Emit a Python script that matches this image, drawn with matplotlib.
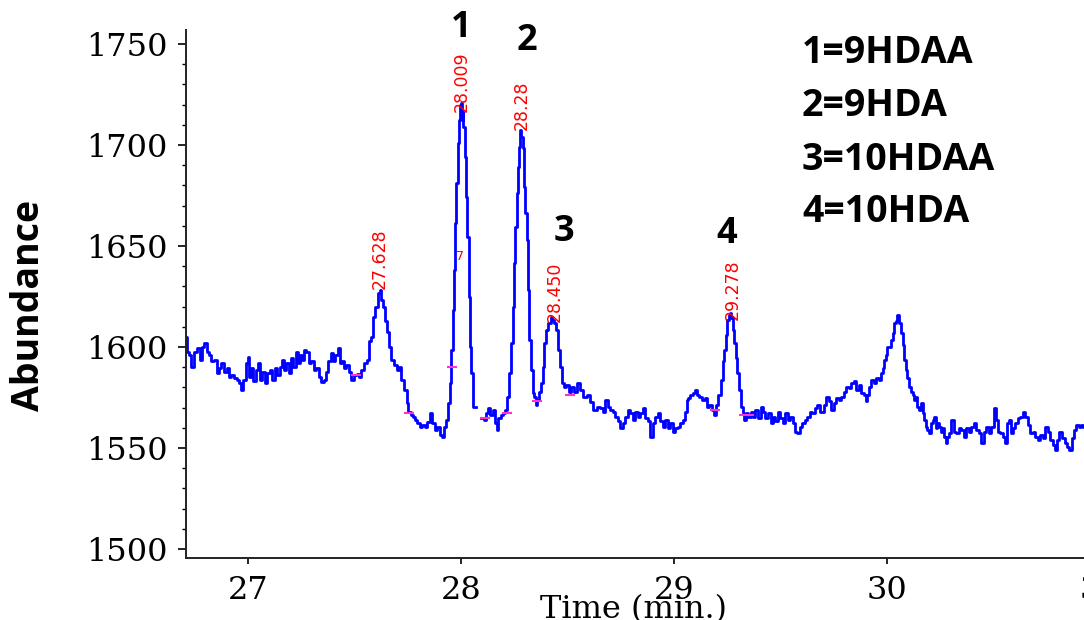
import numpy as np
import matplotlib
matplotlib.use("Agg")
import matplotlib.pyplot as plt

# trace (time in min, abundance)
time_min = [
    26.709, 26.717, 26.728, 26.740, 26.753, 26.768, 26.779, 26.790, 26.800, 26.811,
    26.822, 26.834, 26.847, 26.858, 26.869, 26.881, 26.894, 26.905, 26.916, 26.928,
    26.941, 26.952, 26.963, 26.972, 26.983, 26.994, 27.003, 27.009, 27.019, 27.030,
    27.041, 27.050, 27.061, 27.072, 27.085, 27.097, 27.108, 27.119, 27.132, 27.144,
    27.155, 27.166, 27.175, 27.186, 27.197, 27.207, 27.218, 27.229, 27.238, 27.249,
    27.260, 27.269, 27.280, 27.291, 27.304, 27.316, 27.327, 27.338, 27.351, 27.363,
    27.374, 27.382, 27.394, 27.405, 27.416, 27.426, 27.437, 27.448, 27.457, 27.468,
    27.479, 27.491, 27.504, 27.515, 27.526, 27.538, 27.551, 27.562, 27.570, 27.582,
    27.593, 27.604, 27.614, 27.621, 27.629, 27.637, 27.645, 27.656, 27.667, 27.679,
    27.692, 27.703, 27.714, 27.726, 27.739, 27.750, 27.757, 27.770, 27.781, 27.789,
    27.800, 27.811, 27.823, 27.836, 27.847, 27.858, 27.870, 27.883, 27.894, 27.905,
    27.914, 27.925, 27.936, 27.945, 27.951, 27.959, 27.964, 27.969, 27.975, 27.980,
    27.988, 27.992, 27.997, 28.002, 28.006, 28.009, 28.014, 28.020, 28.027, 28.034,
    28.039, 28.045, 28.053, 28.061, 28.083,
    28.105, 28.113, 28.124, 28.133, 28.144, 28.155, 28.164, 28.172, 28.180, 28.191,
    28.202, 28.214, 28.222, 28.230, 28.238, 28.246, 28.252, 28.258, 28.264, 28.269,
    28.274, 28.280, 28.285, 28.293, 28.300, 28.305, 28.313, 28.318, 28.324, 28.332,
    28.340, 28.347, 28.355, 28.363, 28.371, 28.379, 28.387, 28.396, 28.405, 28.415,
    28.426, 28.433, 28.441, 28.449, 28.458, 28.468, 28.477, 28.488, 28.499, 28.512,
    28.524, 28.535, 28.551, 28.566, 28.582, 28.598, 28.613, 28.629, 28.645, 28.660,
    28.671, 28.684, 28.696, 28.707, 28.718, 28.731, 28.743, 28.754, 28.765, 28.778,
    28.790, 28.801, 28.812, 28.825, 28.837, 28.848, 28.859, 28.872, 28.884, 28.895,
    28.906, 28.919, 28.930, 28.942, 28.953, 28.966, 28.978, 28.989, 29.000, 29.013,
    29.025, 29.036, 29.047, 29.056, 29.063, 29.072, 29.083, 29.094, 29.103, 29.114,
    29.125, 29.138, 29.150, 29.161, 29.172, 29.185, 29.192, 29.200, 29.213, 29.224,
    29.232, 29.239, 29.247, 29.253, 29.260, 29.266, 29.272, 29.279, 29.286, 29.294,
    29.302, 29.310, 29.318, 29.326, 29.333, 29.341, 29.354, 29.365, 29.376, 29.388,
    29.401, 29.412, 29.422, 29.435, 29.448, 29.459, 29.469, 29.482, 29.494, 29.505,
    29.516, 29.529, 29.541, 29.552, 29.563, 29.573, 29.584, 29.595, 29.607, 29.620,
    29.631, 29.642, 29.654, 29.667, 29.678, 29.695, 29.709, 29.720, 29.732, 29.745,
    29.756, 29.767, 29.779, 29.792, 29.803, 29.814, 29.826, 29.839, 29.850, 29.861,
    29.873, 29.886, 29.897, 29.904, 29.912, 29.920, 29.933, 29.944, 29.955, 29.967,
    29.975, 29.983, 29.991, 29.998, 30.006, 30.014, 30.022, 30.030, 30.038, 30.045,
    30.053, 30.061, 30.069, 30.077, 30.084, 30.092, 30.100, 30.108, 30.116, 30.124,
    30.131, 30.139, 30.147, 30.155, 30.163, 30.171, 30.178, 30.186, 30.194, 30.202,
    30.210, 30.218, 30.225, 30.233, 30.241, 30.249, 30.257, 30.264, 30.272, 30.280,
    30.288, 30.296, 30.308, 30.319, 30.330, 30.343, 30.355, 30.366, 30.377, 30.390,
    30.402, 30.413, 30.424, 30.437, 30.449, 30.460, 30.471, 30.484, 30.496, 30.507,
    30.515, 30.527, 30.538, 30.549, 30.559, 30.570, 30.577, 30.585, 30.596, 30.609,
    30.621, 30.632, 30.643, 30.656, 30.668, 30.679, 30.690, 30.703, 30.715, 30.726,
    30.737, 30.750, 30.762, 30.773, 30.784, 30.793, 30.804, 30.815, 30.828, 30.840,
    30.851, 30.862, 30.872, 30.883, 30.894, 30.906, 30.919, 30.925,
]
abundance = [
    1605.1, 1597.7, 1596.1, 1590.3, 1597.7, 1599.4, 1593.6, 1600.2, 1601.8, 1597.7,
    1596.1, 1592.8, 1593.6, 1587.0, 1589.5, 1592.0, 1587.8, 1589.5, 1585.3, 1586.2,
    1584.5, 1583.7, 1582.0, 1578.7, 1583.7, 1592.0, 1595.2, 1585.3, 1589.5, 1582.9,
    1588.6, 1592.0, 1583.7, 1587.8, 1582.0, 1587.0, 1588.6, 1583.7, 1589.5, 1586.2,
    1590.0, 1593.6, 1588.6, 1592.0, 1587.0, 1594.4, 1590.3, 1597.7, 1592.0, 1596.1,
    1593.6, 1598.5, 1597.7, 1592.0, 1592.8, 1588.6, 1589.5, 1585.3, 1582.4, 1583.7,
    1587.8, 1592.8, 1596.9, 1592.8, 1596.1, 1599.4, 1592.0, 1592.8, 1589.5, 1591.1,
    1587.8, 1583.7, 1586.2, 1586.7, 1585.3, 1588.6, 1592.0, 1593.6, 1602.7, 1605.1,
    1615.0, 1620.0, 1626.6, 1628.2, 1623.3, 1620.0, 1612.6, 1607.6, 1600.2, 1593.6,
    1591.1, 1588.6, 1590.3, 1583.7, 1578.7, 1572.1, 1568.0, 1566.4, 1565.5, 1563.9,
    1562.2, 1560.5, 1561.4, 1560.5, 1563.0, 1567.1, 1562.2, 1558.9, 1560.5, 1556.4,
    1555.6, 1560.5, 1563.8, 1572.1, 1582.0, 1598.5, 1618.3, 1638.1, 1661.2, 1681.0,
    1700.8, 1712.4, 1719.8, 1720.6, 1712.4, 1716.5, 1709.0, 1694.2, 1674.4, 1654.6,
    1624.9, 1600.1, 1586.9, 1570.4, np.nan,
    1564.7, 1563.8, 1567.1, 1569.6, 1566.3, 1568.8, 1562.2, 1558.9, 1564.7, 1566.3,
    1567.1, 1568.8, 1575.4, 1586.9, 1601.8, 1619.9, 1641.4, 1659.5, 1676.1, 1689.2,
    1699.1, 1707.4, 1704.1, 1698.3, 1679.3, 1666.1, 1652.9, 1628.2, 1603.4, 1588.6,
    1577.0, 1575.4, 1571.3, 1573.7, 1577.9, 1582.0, 1590.2, 1601.8, 1608.4, 1611.7,
    1615.0, 1613.3, 1611.7, 1608.4, 1598.5, 1590.2, 1582.0, 1580.3, 1581.2, 1577.9,
    1580.3, 1577.9, 1582.0, 1578.7, 1575.4, 1576.2, 1572.9, 1568.8, 1570.4, 1569.7,
    1568.0, 1573.8, 1570.5, 1568.8, 1568.0, 1565.5, 1563.1, 1559.8, 1562.2, 1565.5,
    1568.8, 1567.2, 1563.9, 1568.0, 1565.5, 1567.2, 1569.7, 1564.7, 1563.1, 1555.6,
    1562.2, 1565.5, 1567.2, 1563.1, 1560.6, 1563.9, 1559.8, 1562.2, 1558.1, 1559.8,
    1560.6, 1562.2, 1563.9, 1568.0, 1573.8, 1574.6, 1576.3, 1577.1, 1578.7, 1576.3,
    1575.4, 1573.8, 1574.6, 1570.5, 1571.3, 1568.8, 1566.4, 1571.3, 1576.3, 1583.7,
    1592.8, 1598.5, 1606.0, 1613.4, 1615.9, 1616.7, 1614.2, 1608.4, 1601.8, 1594.4,
    1587.0, 1578.7, 1570.5, 1567.2, 1563.9, 1567.2, 1565.5, 1568.0, 1565.5, 1568.8,
    1564.7, 1570.5, 1568.0, 1564.7, 1567.2, 1562.2, 1565.5, 1563.1, 1568.0, 1564.7,
    1562.2, 1567.2, 1563.9, 1565.5, 1562.2, 1558.1, 1557.3, 1560.6, 1562.2, 1563.9,
    1565.5, 1568.0, 1567.2, 1569.7, 1571.3, 1568.0, 1571.3, 1575.4, 1573.0, 1568.8,
    1572.1, 1574.6, 1573.8, 1575.4, 1577.9, 1580.4, 1579.6, 1582.0, 1582.9, 1578.7,
    1581.2, 1577.1, 1576.3, 1573.0, 1576.3, 1580.4, 1583.7, 1582.0, 1584.5, 1583.7,
    1587.0, 1589.5, 1593.6, 1596.1, 1600.2, 1600.2, 1603.5, 1606.8, 1611.7, 1612.6,
    1615.9, 1611.7, 1606.8, 1601.0, 1593.6, 1588.6, 1584.5, 1580.4, 1577.9, 1576.3,
    1573.8, 1575.4, 1570.5, 1568.8, 1572.1, 1567.2, 1563.9, 1560.6, 1558.9, 1557.3,
    1562.2, 1563.9, 1565.5, 1559.8, 1562.2, 1560.6, 1558.1, 1559.8, 1555.6, 1552.3,
    1555.6, 1557.3, 1563.9, 1558.1, 1557.3, 1559.8, 1558.9, 1555.6, 1559.8, 1558.1,
    1560.6, 1562.2, 1558.9, 1557.3, 1552.3, 1558.1, 1560.6, 1557.3, 1560.6, 1569.7,
    1563.9, 1558.1, 1557.3, 1555.6, 1552.3, 1562.2, 1563.9, 1557.3, 1559.8, 1562.2,
    1564.7, 1565.5, 1568.0, 1565.5, 1561.4, 1557.3, 1558.1, 1555.6, 1554.0, 1556.5,
    1554.8, 1560.6, 1558.1, 1554.0, 1551.5, 1549.0, 1554.0, 1558.1, 1554.8, 1552.3,
    1550.7, 1549.0, 1554.8, 1558.9, 1561.4, 1560.6, 1561.4, 1560.6,
]

# integration baseline marks (magenta)
base_t = [27.507, 27.754, 27.959, 28.113, 28.214, 28.355, 28.512, 29.192, 29.330, 29.350]
base_a = [1586.2, 1567.5, 1590.0, 1565.0, 1567.5, 1573.0, 1576.0, 1569.0, 1566.5, 1566.5]

# retention-time labels
rt_labels = ["27.628", "28.009", "28.28", "28.450", "29.278"]
rt_t = [27.620, 28.005, 28.286, 28.441, 29.277]
rt_a = [1628.5, 1716.3, 1707.4, 1612.4, 1613.4]

# peak numbers
peak_ids = ["1", "2", "3", "4"]
peak_t = [28.000, 28.310, 28.484, 29.249]
peak_a = [1757.9, 1751.5, 1656.9, 1655.9]

legend_lines = ["1=9HDAA", "2=9HDA", "3=10HDAA", "4=10HDA"]

W, H = 1084, 620
fig = plt.figure(figsize=(W / 100, H / 100), dpi=100)
ax = fig.add_axes([186 / W, 62 / H, 914 / W, 528 / H])

ax.plot(time_min, abundance, color="#0000ff", lw=2.0, drawstyle="steps-mid")
ax.plot(base_t, base_a, ls="none", marker="_", ms=7, mew=1.5, color="#ff33cc")

ax.set_xlim(26.709, 31.0)
ax.set_ylim(1495.5, 1756.9)
ax.set_xticks([27, 28, 29, 30, 31])
ax.set_yticks([1500, 1550, 1600, 1650, 1700, 1750])
ax.set_yticks(np.arange(1500, 1760, 10), minor=True)

for s in ["top", "right"]:
    ax.spines[s].set_visible(False)
for s in ["left", "bottom"]:
    ax.spines[s].set_linewidth(1.4)
    ax.spines[s].set_color("#222222")

ax.tick_params(axis="y", which="major", length=6, width=1.2, pad=7, labelsize=23)
ax.tick_params(axis="y", which="minor", length=3, width=1.0)
ax.tick_params(axis="x", which="major", length=4, width=1.2, pad=8, labelsize=23)
for lab in ax.get_xticklabels() + ax.get_yticklabels():
    lab.set_family("DejaVu Serif")

for txt, t, a in zip(rt_labels, rt_t, rt_a):
    ax.text(t, a, txt, rotation=90, color="red", fontsize=12.5,
            ha="center", va="bottom", family="DejaVu Sans")
ax.text(27.995, 1645, "7", color="red", fontsize=9, ha="center", va="center")

for txt, t, a in zip(peak_ids, peak_t, peak_a):
    ax.text(t, a, txt, fontsize=26, fontweight="bold", family="Open Sans",
            ha="center", va="center", clip_on=False)

leg_y = [53, 106, 160, 212]
for txt, py in zip(legend_lines, leg_y):
    fig.text(802 / W, 1 - py / H, txt, fontsize=27, fontweight="bold",
             family="Open Sans", ha="left", va="center")

fig.text(29 / W, 1 - 305 / H, "Abundance", rotation=90, fontsize=27,
         fontweight="bold", family="Open Sans", ha="center", va="center")
fig.text(634 / W, 2 / H, "Time (min.)", fontsize=23, family="DejaVu Serif",
         ha="center", va="baseline")

fig.savefig("out.png", dpi=100)
